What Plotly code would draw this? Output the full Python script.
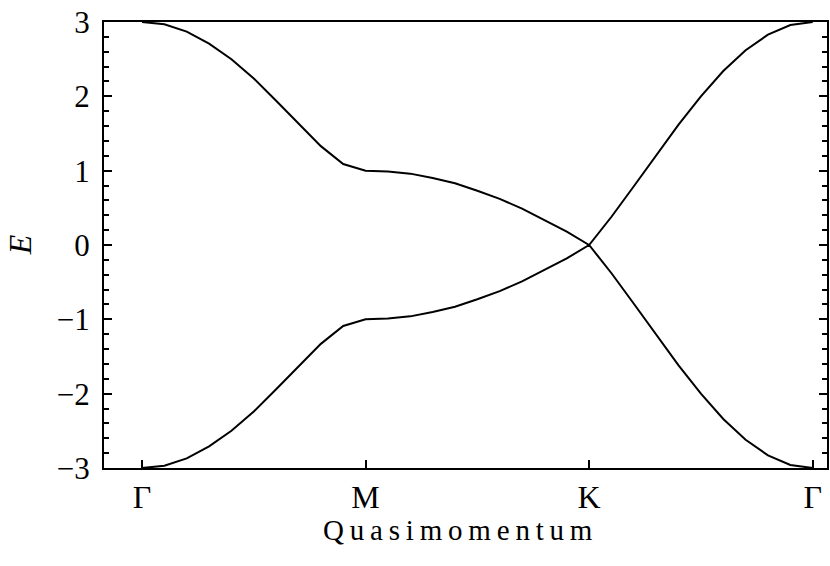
import plotly.graph_objects as go

# momentum along the path Γ -> M -> K -> Γ (one unit per segment)
k_path = [0.0, 0.1, 0.2, 0.3, 0.4, 0.5, 0.6, 0.7, 0.8, 0.9,
          1.0, 1.1, 1.2, 1.3, 1.4, 1.5, 1.6, 1.7, 1.8, 1.9,
          2.0, 2.1, 2.2, 2.3, 2.4, 2.5, 2.6, 2.7, 2.8, 2.9, 3.0]

# upper band
E_upper = [3.00, 2.97, 2.87, 2.71, 2.50, 2.24, 1.94, 1.63, 1.33, 1.09,
           1.00, 0.99, 0.96, 0.90, 0.83, 0.73, 0.62, 0.49, 0.34, 0.18,
           0.00, 0.38, 0.79, 1.21, 1.62, 2.00, 2.34, 2.62, 2.83, 2.96, 3.00]

# lower band
E_lower = [-3.00, -2.97, -2.87, -2.71, -2.50, -2.24, -1.94, -1.63, -1.33, -1.09,
           -1.00, -0.99, -0.96, -0.90, -0.83, -0.73, -0.62, -0.49, -0.34, -0.18,
           0.00, -0.38, -0.79, -1.21, -1.62, -2.00, -2.34, -2.62, -2.83, -2.96, -3.00]

x_tickvals = [0, 1, 2, 3]
x_ticktext = ["Γ", "M", "K", "Γ"]
y_tickvals = [-3, -2, -1, 0, 1, 2, 3]

FONT = "Liberation Serif"

fig = go.Figure()
for band in (E_upper, E_lower):
    fig.add_trace(go.Scatter(
        x=k_path, y=band, mode="lines",
        line=dict(color="black", width=2),
        showlegend=False, hoverinfo="skip",
    ))

fig.update_xaxes(
    range=[-0.17, 3.064],
    tickvals=x_tickvals, ticktext=x_ticktext,
    ticks="inside", ticklen=8, tickwidth=2, tickcolor="black",
    showline=True, linecolor="black", linewidth=2, mirror=True,
    showgrid=False, zeroline=False, automargin=False,
    tickfont=dict(family=FONT, size=32, color="black"),
    ticklabelstandoff=0,
)
fig.update_yaxes(
    range=[-3, 3],
    tickvals=y_tickvals,
    ticks="inside", ticklen=8, tickwidth=2, tickcolor="black",
    minor=dict(ticks="inside", ticklen=5, tickwidth=2, tickcolor="black", dtick=0.2, showgrid=False),
    showline=True, linecolor="black", linewidth=2, mirror="ticks",
    showgrid=False, zeroline=False, automargin=False,
    tickfont=dict(family=FONT, size=31, color="black"),
    ticklabelstandoff=6,
)

thin = "\u2009"
fig.add_annotation(
    text=thin.join("Quasimomentum"), xref="paper", yref="paper",
    x=0.49, y=-0.138, xanchor="center", yanchor="middle", showarrow=False,
    font=dict(family=FONT, size=29, color="black"),
)
fig.add_annotation(
    text="<i>E</i>", xref="paper", yref="paper",
    x=-0.116, y=0.5, xanchor="center", yanchor="middle", showarrow=False,
    textangle=-90, font=dict(family=FONT, size=32, color="black"),
)

fig.update_layout(
    width=830, height=566,
    margin=dict(l=104, r=3, t=22, b=98),
    paper_bgcolor="white", plot_bgcolor="white",
)

# drop the page's default 8px body margin so the figure sits at the window corner
fig.write_html("out.html", config={"displayModeBar": False},
               post_script="document.body.style.margin='0';")
